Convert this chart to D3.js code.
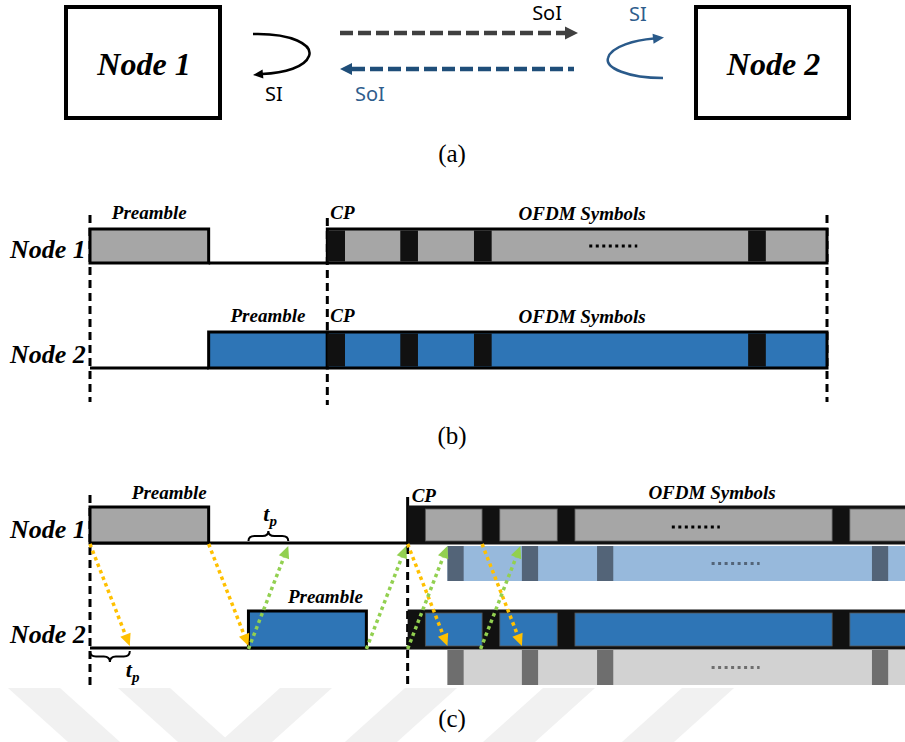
<!DOCTYPE html>
<html>
<head>
<meta charset="utf-8">
<script src="https://d3js.org/d3.v7.min.js"></script>
<style>
  body { margin: 0; background: #fff; }
  svg { display: block; }
</style>
</head>
<body>
<svg width="905" height="742"></svg>
<script>
// ---- data (time in arbitrary units, preamble ~16 units) ----
const nodes = ["Node 1", "Node 2"];
const captions = ["(a)", "(b)", "(c)"];

// panel (b): synchronous exchange
const preambleB = [[0, 16.1], [16.1, 32.2]];
const ofdmB = [32.2, 100];
const cpStartsB = [32.2, 42.1, 52.1, 89.3];
const cpLen = 2.4;
const dotsB = 71.0;

// panel (c): with propagation delay tp
const preambleC = [[0, 16.1], [21.5, 37.5]];
const ofdmC = [43.1, 112];
const cpStartsC = [43.1, 53.2, 63.4, 100.7];
const tp = 5.4;
const echoCpLen = 2.2;
const dotsC = 82.2;
const txArrows = [0, 16.1, 43.1, 53.2];   // node 1 -> node 2
const rxArrows = [21.5, 37.5, 43.1, 53.0]; // node 2 -> node 1

// watermark stripes at the bottom
const bandTops = [8, 118, 280, 405, 543, 682];
const bandDirs = [1, 1, -1, -1, -1, -1];

const svg = d3.select("svg");
const x = d3.scaleLinear().domain([0, 100]).range([90, 827]);

const serifBI = "font-family:'Liberation Serif','Times New Roman',serif;font-weight:bold;font-style:italic";
const sans = "font-family:'Noto Sans','Open Sans',sans-serif";

svg.append("rect").attr("width", 905).attr("height", 742).attr("fill", "#fff");

// watermark
const wm = svg.append("g");
bandTops.forEach((x0, i) => {
  const d = bandDirs[i] * 60;
  wm.append("path")
    .attr("d", `M${x0},688L${x0 + 52},688L${x0 + 52 + d},742L${x0 + d},742Z`)
    .attr("fill", "#f1f1f1");
});

function head(g, x1, y1, x2, y2, len, w, color) {
  const a = Math.atan2(y2 - y1, x2 - x1);
  const bx = x2 - len * Math.cos(a), by = y2 - len * Math.sin(a);
  const nx = -Math.sin(a) * w / 2, ny = Math.cos(a) * w / 2;
  g.append("path")
    .attr("d", `M${x2},${y2}L${bx + nx},${by + ny}L${bx - nx},${by - ny}Z`)
    .attr("fill", color);
  return [bx, by];
}

// ================= panel (a) =================
const pa = svg.append("g");
[[66, 154], [696, 153]].forEach((b, i) => {
  pa.append("rect").attr("x", b[0]).attr("y", 7).attr("width", b[1]).attr("height", 111)
    .attr("fill", "#fff").attr("stroke", "#000").attr("stroke-width", 4);
  pa.append("text").attr("x", b[0] + b[1] / 2 + 1).attr("y", 75).attr("text-anchor", "middle")
    .attr("style", serifBI).attr("font-size", 32).text(nodes[i]);
});

// SI loop at node 1
pa.append("path").attr("d", "M253,34 C292,33 313,45 309,56 C305,67 285,73 262,74")
  .attr("fill", "none").attr("stroke", "#000").attr("stroke-width", 2.5);
head(pa, 264, 74, 253, 75, 10, 9, "#000");
pa.append("text").attr("x", 274).attr("y", 101).attr("text-anchor", "middle")
  .attr("style", sans).attr("font-size", 20).attr("fill", "#000").text("SI");

// SoI from node 1 to node 2
pa.append("line").attr("x1", 340).attr("x2", 566).attr("y1", 33).attr("y2", 33)
  .attr("stroke", "#404040").attr("stroke-width", 4.5).attr("stroke-dasharray", "13 5");
head(pa, 560, 33, 578, 33, 13, 13, "#404040");
pa.append("text").attr("x", 562).attr("y", 20).attr("text-anchor", "end")
  .attr("style", sans).attr("font-size", 20).attr("fill", "#000").text("SoI");

// SoI from node 2 to node 1
pa.append("line").attr("x1", 352).attr("x2", 574).attr("y1", 69).attr("y2", 69)
  .attr("stroke", "#1f4e79").attr("stroke-width", 4.5).attr("stroke-dasharray", "13 5");
head(pa, 360, 69, 340, 69, 12, 12, "#1f4e79");
pa.append("text").attr("x", 355).attr("y", 101)
  .attr("style", sans).attr("font-size", 20).attr("fill", "#2e5d8c").text("SoI");

// SI loop at node 2
pa.append("path").attr("d", "M663,78 C628,78 605,68 608,58 C611,46 636,40 654,38.5")
  .attr("fill", "none").attr("stroke", "#2a5a8a").attr("stroke-width", 2.5);
head(pa, 650, 39, 664, 37.5, 11, 10, "#2a5a8a");
pa.append("text").attr("x", 638).attr("y", 21).attr("text-anchor", "middle")
  .attr("style", sans).attr("font-size", 20).attr("fill", "#2e5d8c").text("SI");

// ================= panel (b) =================
const pb = svg.append("g");
const rowsB = [[229, 263], [332, 368]];
const fillsB = ["#a6a6a6", "#2e75b6"];

[[x(0), 215, 402], [x(ofdmB[0]), 218, 405], [x(ofdmB[1]), 215, 402]].forEach(v => {
  pb.append("line").attr("x1", v[0]).attr("x2", v[0]).attr("y1", v[1]).attr("y2", v[2])
    .attr("stroke", "#000").attr("stroke-width", 3).attr("stroke-dasharray", "8 5");
});

rowsB.forEach((r, i) => {
  const [top, bot] = r;
  const pre = preambleB[i];
  // idle line
  const idle = i === 0 ? [pre[1], ofdmB[0]] : [0, pre[0]];
  pb.append("line").attr("x1", x(idle[0])).attr("x2", x(idle[1])).attr("y1", bot).attr("y2", bot)
    .attr("stroke", "#000").attr("stroke-width", 3);
  pb.append("rect").attr("x", x(pre[0])).attr("y", top).attr("width", x(pre[1]) - x(pre[0]))
    .attr("height", bot - top).attr("fill", fillsB[i]).attr("stroke", "#000").attr("stroke-width", 3);
  pb.append("rect").attr("x", x(ofdmB[0])).attr("y", top).attr("width", x(ofdmB[1]) - x(ofdmB[0]))
    .attr("height", bot - top).attr("fill", fillsB[i]).attr("stroke", "#000").attr("stroke-width", 3);
  cpStartsB.forEach(t => {
    pb.append("rect").attr("x", x(t)).attr("y", top + 1.5).attr("width", x(t + cpLen) - x(t))
      .attr("height", bot - top - 3).attr("fill", "#111");
  });
  if (i === 0) {
    pb.append("line").attr("x1", x(dotsB) - 24).attr("x2", x(dotsB) + 24)
      .attr("y1", (top + bot) / 2).attr("y2", (top + bot) / 2)
      .attr("stroke", "#000").attr("stroke-width", 3).attr("stroke-dasharray", "3 3.5");
  }
  pb.append("text").attr("x", 10).attr("y", bot - 5).attr("style", serifBI).attr("font-size", 26).text(nodes[i]);
  pb.append("text").attr("x", x((pre[0] + pre[1]) / 2)).attr("y", top - 10).attr("text-anchor", "middle")
    .attr("style", serifBI).attr("font-size", 19).text("Preamble");
  pb.append("text").attr("x", x(ofdmB[0]) + 3).attr("y", top - 10)
    .attr("style", serifBI).attr("font-size", 19).text("CP");
  pb.append("text").attr("x", x((ofdmB[0] + ofdmB[1]) / 2) + 5).attr("y", top - 9).attr("text-anchor", "middle")
    .attr("style", serifBI).attr("font-size", 19).text("OFDM Symbols");
});

// ================= panel (c) =================
const pc = svg.append("g");
const rowsC = [[507, 543], [611, 648]];
const fillsC = ["#a6a6a6", "#2e75b6"];
const echoRows = [[546, 581, "#97b9dc", "#536478"], [650, 685, "#d2d2d2", "#6e6e6e"]];

pc.append("line").attr("x1", x(0)).attr("x2", x(0)).attr("y1", 495).attr("y2", 685)
  .attr("stroke", "#000").attr("stroke-width", 3).attr("stroke-dasharray", "8 5");
pc.append("line").attr("x1", x(ofdmC[0])).attr("x2", x(ofdmC[0])).attr("y1", 546).attr("y2", 685)
  .attr("stroke", "#000").attr("stroke-width", 3).attr("stroke-dasharray", "8 5");
pc.append("line").attr("x1", x(ofdmC[0])).attr("x2", x(ofdmC[0])).attr("y1", 497).attr("y2", 545)
  .attr("stroke", "#000").attr("stroke-width", 3);

rowsC.forEach((r, i) => {
  const [top, bot] = r;
  const pre = preambleC[i];
  pc.append("line").attr("x1", x(0)).attr("x2", x(ofdmC[0])).attr("y1", bot).attr("y2", bot)
    .attr("stroke", "#000").attr("stroke-width", 3);
  pc.append("rect").attr("x", x(pre[0])).attr("y", top).attr("width", x(pre[1]) - x(pre[0]))
    .attr("height", bot - top).attr("fill", fillsC[i]).attr("stroke", "#000").attr("stroke-width", 3);

  // OFDM block: black frame with data parts between CPs
  pc.append("rect").attr("x", x(ofdmC[0])).attr("y", top - 1.5).attr("width", x(ofdmC[1]) - x(ofdmC[0]))
    .attr("height", bot - top + 3).attr("fill", "#111");
  cpStartsC.forEach((t, k) => {
    const s = t + cpLen, e = k + 1 < cpStartsC.length ? cpStartsC[k + 1] : ofdmC[1];
    pc.append("rect").attr("x", x(s)).attr("y", top + 2).attr("width", x(e) - x(s))
      .attr("height", bot - top - 4).attr("fill", fillsC[i]).attr("stroke", "#555").attr("stroke-width", 0.8);
  });

  // delayed copy received from the other node
  const er = echoRows[i];
  pc.append("rect").attr("x", x(ofdmC[0] + tp)).attr("y", er[0]).attr("width", x(ofdmC[1]) - x(ofdmC[0] + tp))
    .attr("height", er[1] - er[0]).attr("fill", er[2]);
  cpStartsC.forEach(t => {
    pc.append("rect").attr("x", x(t + tp)).attr("y", er[0]).attr("width", x(t + tp + echoCpLen) - x(t + tp))
      .attr("height", er[1] - er[0]).attr("fill", er[3]);
  });
  pc.append("line").attr("x1", x(dotsC + tp) - 24).attr("x2", x(dotsC + tp) + 24)
    .attr("y1", (er[0] + er[1]) / 2).attr("y2", (er[0] + er[1]) / 2)
    .attr("stroke", er[3]).attr("stroke-width", 3).attr("stroke-dasharray", "3 3.5");

  if (i === 0) {
    pc.append("line").attr("x1", x(dotsC) - 24).attr("x2", x(dotsC) + 24)
      .attr("y1", (top + bot) / 2 + 2).attr("y2", (top + bot) / 2 + 2)
      .attr("stroke", "#000").attr("stroke-width", 3).attr("stroke-dasharray", "3 3.5");
  }

  pc.append("text").attr("x", 10).attr("y", bot - 5).attr("style", serifBI).attr("font-size", 26).text(nodes[i]);
  pc.append("text").attr("x", x((pre[0] + pre[1]) / 2) + (i === 0 ? 20 : 18)).attr("y", top - 8).attr("text-anchor", "middle")
    .attr("style", serifBI).attr("font-size", 19).text("Preamble");
});
pc.append("text").attr("x", x(ofdmC[0]) + 4).attr("y", 502)
  .attr("style", serifBI).attr("font-size", 19).text("CP");
pc.append("text").attr("x", 712).attr("y", 499).attr("text-anchor", "middle")
  .attr("style", serifBI).attr("font-size", 19).text("OFDM Symbols");

// propagation arrows
function dotted(t0, y0, t1, y1, color) {
  const [bx, by] = head(pc, x(t0), y0, x(t1), y1, 12, 11, color);
  pc.append("line").attr("x1", x(t0)).attr("y1", y0).attr("x2", bx).attr("y2", by)
    .attr("stroke", color).attr("stroke-width", 3.5).attr("stroke-dasharray", "3.5 3.5");
}
txArrows.forEach(t => dotted(t, 544, t + tp, 646, "#ffc000"));
rxArrows.forEach(t => dotted(t, 649, t + tp, 546, "#92d050"));

// braces for tp
function brace(x1, x2, y, h) {
  const m = (x1 + x2) / 2, q = h / 2, r = 6;
  return `M${x1},${y}Q${x1},${y + q} ${x1 + r},${y + q}L${m - r},${y + q}Q${m},${y + q} ${m},${y + h}` +
    `Q${m},${y + q} ${m + r},${y + q}L${x2 - r},${y + q}Q${x2},${y + q} ${x2},${y}`;
}
pc.append("path").attr("d", brace(x(rxArrows[0]), x(rxArrows[0] + tp), 541, -10))
  .attr("fill", "none").attr("stroke", "#000").attr("stroke-width", 2);
pc.append("path").attr("d", brace(x(0), x(tp), 651, 11))
  .attr("fill", "none").attr("stroke", "#000").attr("stroke-width", 2);

function tpLabel(cx, cy) {
  const t = pc.append("text").attr("x", cx).attr("y", cy).attr("style", serifBI).attr("font-size", 22);
  t.append("tspan").text("t");
  t.append("tspan").attr("dy", 5).attr("font-size", 15).text("p");
}
tpLabel(x(rxArrows[0] + tp / 2) - 5, 521);
tpLabel(x(tp) - 4, 677);

// ================= captions =================
[162, 444, 727].forEach((y, i) => {
  svg.append("text").attr("x", 452).attr("y", y).attr("text-anchor", "middle")
    .attr("font-family", "'Liberation Serif','DejaVu Serif',serif").attr("font-size", 25).text(captions[i]);
});
</script>
</body>
</html>
